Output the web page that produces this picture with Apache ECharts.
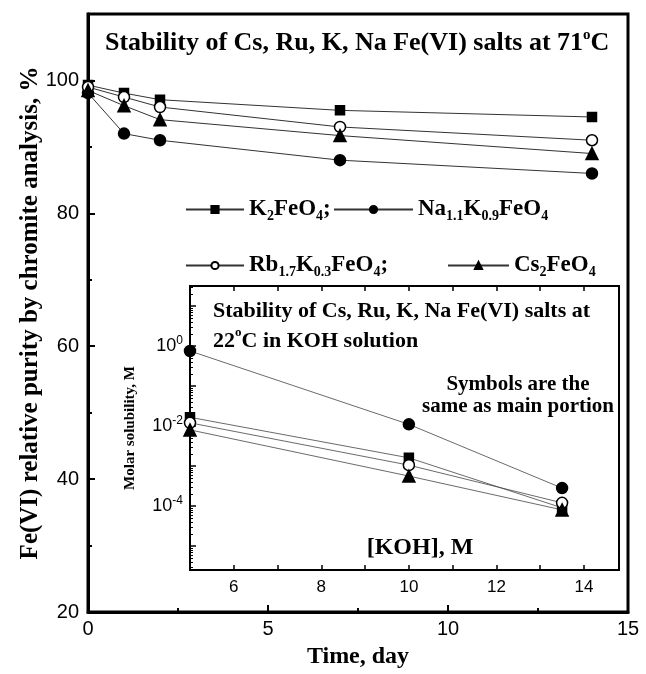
<!DOCTYPE html>
<html>
<head>
    <meta charset="UTF-8">
    <title></title>
    <script src="https://cdn.jsdelivr.net/npm/echarts@6/dist/echarts.min.js"></script>
    <style>
        html, body { margin: 0; padding: 0; background: #fff; }
        #container { width: 646px; height: 674px; }
    </style>
</head>
<body>
    <div id="container"></div>
    <script type="text/javascript">
        // main plot: purity vs time at 71 C
        var days = [0, 1, 2, 7, 14];
        var k2 = [99.3, 98.1, 97.1, 95.5, 94.5];
        var na = [98.1, 92, 91, 88, 86];
        var rb = [99, 97.5, 96, 93, 91];
        var cs = [98.5, 96.2, 94.1, 91.7, 89];

        // inset: molar solubility vs [KOH]
        var koh = [5, 10, 13.5];
        var solK2 = [0.0165, 0.0016, 0.00009];
        var solNa = [0.75, 0.011, 0.00028];
        var solRb = [0.012, 0.00105, 0.00012];
        var solCs = [0.008, 0.00056, 0.00008];

        var names = ['K2FeO4', 'Na1.1K0.9FeO4', 'Rb1.7K0.3FeO4', 'Cs2FeO4'];
        var richNames = {
            'K2FeO4': '{t|K}{s|2}{t|FeO}{s|4}{t|;}',
            'Na1.1K0.9FeO4': '{t|Na}{s|1.1}{t|K}{s|0.9}{t|FeO}{s|4}',
            'Rb1.7K0.3FeO4': '{t|Rb}{s|1.7}{t|K}{s|0.3}{t|FeO}{s|4}{t|;}',
            'Cs2FeO4': '{t|Cs}{s|2}{t|FeO}{s|4}'
        };

        var serif = 'Liberation Serif, Times New Roman, serif';
        var sans = 'Liberation Sans, Arial, sans-serif';

        function pairs(xs, ys) {
            return xs.map(function (x, i) { return [x, ys[i]]; });
        }

        // minor ticks of the log axis (2..9 in every decade)
        var logMinor = [];
        for (var e = -6; e <= 1; e++) {
            for (var m = 2; m <= 9; m++) {
                logMinor.push(m * Math.pow(10, e));
            }
        }

        var marks = [
            { symbol: 'rect', size: 9, fill: '#000' },
            { symbol: 'circle', size: 11, fill: '#000' },
            { symbol: 'circle', size: 11, fill: '#fff' },
            { symbol: 'triangle', size: 12, fill: '#000' }
        ];
        var mainVals = [k2, na, rb, cs];
        var insetVals = [solK2, solNa, solRb, solCs];

        var series = [];
        names.forEach(function (n, i) {
            series.push({
                name: n,
                type: 'line',
                xAxisIndex: 0,
                yAxisIndex: 0,
                data: pairs(days, mainVals[i]),
                symbol: marks[i].symbol,
                symbolSize: marks[i].size,
                lineStyle: { color: '#333', width: 1 },
                itemStyle: { color: marks[i].fill, borderColor: '#000', borderWidth: 1.5 },
                emphasis: { disabled: true },
                z: 3
            });
            series.push({
                name: n,
                type: 'line',
                xAxisIndex: 1,
                yAxisIndex: 1,
                data: pairs(koh, insetVals[i]),
                symbol: marks[i].symbol,
                symbolSize: marks[i].size,
                lineStyle: { color: '#444', width: 0.8 },
                itemStyle: { color: marks[i].fill, borderColor: '#000', borderWidth: 1.5 },
                emphasis: { disabled: true },
                z: 3
            });
        });

        var legendText = {
            rich: {
                t: { fontFamily: serif, fontWeight: 'bold', fontSize: 23, lineHeight: 28, color: '#000' },
                s: { fontFamily: serif, fontWeight: 'bold', fontSize: 14, lineHeight: 14, verticalAlign: 'bottom', color: '#000' }
            }
        };
        function legendAt(name, left, top, w) {
            return {
                data: [name],
                left: left,
                top: top,
                padding: 0,
                itemWidth: w,
                itemHeight: 9,
                selectedMode: false,
                formatter: function (n) { return richNames[n]; },
                textStyle: legendText
            };
        }

        var option = {
            animation: false,
            backgroundColor: '#fff',
            title: [{
                text: '{t|Stability of Cs, Ru, K, Na Fe(VI) salts at 71}{p|o}{t|C}',
                left: 105,
                top: 28,
                padding: 0,
                textStyle: {
                    rich: {
                        t: { fontFamily: serif, fontWeight: 'bold', fontSize: 26, lineHeight: 30, color: '#000' },
                        p: { fontFamily: serif, fontWeight: 'bold', fontSize: 15, lineHeight: 15, verticalAlign: 'top', color: '#000' }
                    }
                }
            }, {
                text: '{t|Stability of Cs, Ru, K, Na Fe(VI) salts at}\n{t|22}{p|o}{t|C in KOH solution}',
                left: 213,
                top: 296,
                padding: 0,
                textStyle: {
                    rich: {
                        t: { fontFamily: serif, fontWeight: 'bold', fontSize: 22, lineHeight: 30, color: '#000' },
                        p: { fontFamily: serif, fontWeight: 'bold', fontSize: 13, lineHeight: 13, verticalAlign: 'top', color: '#000' }
                    }
                }
            }, {
                text: 'Symbols are the\nsame as main portion',
                left: 518,
                top: 374,
                padding: 0,
                textAlign: 'center',
                textStyle: { fontFamily: serif, fontWeight: 'bold', fontSize: 21, lineHeight: 22, color: '#000' }
            }, {
                text: '[KOH], M',
                left: 420,
                top: 534,
                padding: 0,
                textAlign: 'center',
                textStyle: { fontFamily: serif, fontWeight: 'bold', fontSize: 24, lineHeight: 28, color: '#000' }
            }],
            legend: [
                legendAt(names[0], 185, 198, 58),
                legendAt(names[1], 333, 198, 79),
                legendAt(names[2], 185, 254, 58),
                legendAt(names[3], 447, 254, 61)
            ],
            grid: [{
                left: 88, top: 14, right: 18, bottom: 59,
                show: true, borderColor: '#000', borderWidth: 3
            }, {
                left: 190, top: 286, right: 27, bottom: 104,
                show: true, backgroundColor: '#fff', borderColor: '#000', borderWidth: 2
            }],
            xAxis: [{
                gridIndex: 0,
                type: 'value',
                min: 0, max: 15, interval: 5,
                name: 'Time, day',
                nameLocation: 'middle',
                nameGap: 33,
                nameMoveOverlap: false,
                nameTextStyle: { fontFamily: serif, fontWeight: 'bold', fontSize: 24, color: '#000' },
                axisLine: { lineStyle: { color: '#000', width: 3 } },
                axisTick: { inside: true, length: 7, lineStyle: { color: '#000', width: 2 } },
                minorTick: { show: true, splitNumber: 2, length: 4, lineStyle: { color: '#000', width: 2 } },
                axisLabel: { fontFamily: sans, fontSize: 20, color: '#000', margin: 7 },
                splitLine: { show: false }
            }, {
                gridIndex: 1,
                type: 'value',
                min: 5, max: 14.8, interval: 1,
                axisLine: { lineStyle: { color: '#000', width: 2 } },
                axisTick: { inside: true, length: 5, lineStyle: { color: '#000', width: 1.5 } },
                axisLabel: {
                    fontFamily: sans, fontSize: 17, color: '#000', margin: 9,
                    showMaxLabel: false,
                    formatter: function (v) { return v % 2 === 0 ? String(v) : ''; }
                },
                splitLine: { show: false }
            }, {
                gridIndex: 1,
                type: 'value',
                position: 'top',
                min: 5, max: 14.8, interval: 1,
                axisLine: { lineStyle: { color: '#000', width: 2 } },
                axisTick: { inside: true, length: 5, lineStyle: { color: '#000', width: 1.5 } },
                axisLabel: { show: false },
                splitLine: { show: false }
            }],
            yAxis: [{
                gridIndex: 0,
                type: 'value',
                min: 20, max: 110, interval: 20,
                name: 'Fe(VI) relative purity by chromite analysis, %',
                nameLocation: 'middle',
                nameGap: 45,
                nameMoveOverlap: false,
                nameTextStyle: { fontFamily: serif, fontWeight: 'bold', fontSize: 25, color: '#000' },
                axisLine: { lineStyle: { color: '#000', width: 3 } },
                axisTick: { inside: true, length: 7, lineStyle: { color: '#000', width: 2 } },
                minorTick: { show: true, splitNumber: 2, length: 4, lineStyle: { color: '#000', width: 2 } },
                axisLabel: { fontFamily: sans, fontSize: 20, color: '#000', margin: 9, showMaxLabel: false },
                splitLine: { show: false }
            }, {
                gridIndex: 1,
                type: 'log',
                logBase: 10,
                min: Math.pow(10, -5.6),
                max: Math.pow(10, 1.5),
                name: 'Molar solubility, M',
                nameLocation: 'middle',
                nameGap: 52,
                nameMoveOverlap: false,
                nameTextStyle: { fontFamily: serif, fontWeight: 'bold', fontSize: 15, color: '#000' },
                axisLine: { lineStyle: { color: '#000', width: 2 } },
                axisTick: { inside: true, length: 6, lineStyle: { color: '#000', width: 1.5 } },
                axisLabel: {
                    margin: 7,
                    formatter: function (v) {
                        var ex = Math.log10(v);
                        var r = Math.round(ex);
                        if (Math.abs(ex - r) > 0.01 || r % 2 !== 0) return '';
                        return '{b|10}{p|' + r + '}';
                    },
                    rich: {
                        b: { fontFamily: sans, fontSize: 18, lineHeight: 22, color: '#000' },
                        p: { fontFamily: sans, fontSize: 12, lineHeight: 12, verticalAlign: 'top', color: '#000' }
                    }
                },
                splitLine: { show: false }
            }, {
                gridIndex: 1,
                type: 'log',
                logBase: 10,
                min: Math.pow(10, -5.6),
                max: Math.pow(10, 1.5),
                position: 'left',
                axisLine: { show: false },
                axisTick: { inside: true, length: 3, customValues: logMinor, lineStyle: { color: '#000', width: 1 } },
                axisLabel: { show: false },
                splitLine: { show: false }
            }],
            series: series
        };

        var myChart = echarts.init(document.getElementById('container'));
        myChart.setOption(option);
    </script>
</body>
</html>
